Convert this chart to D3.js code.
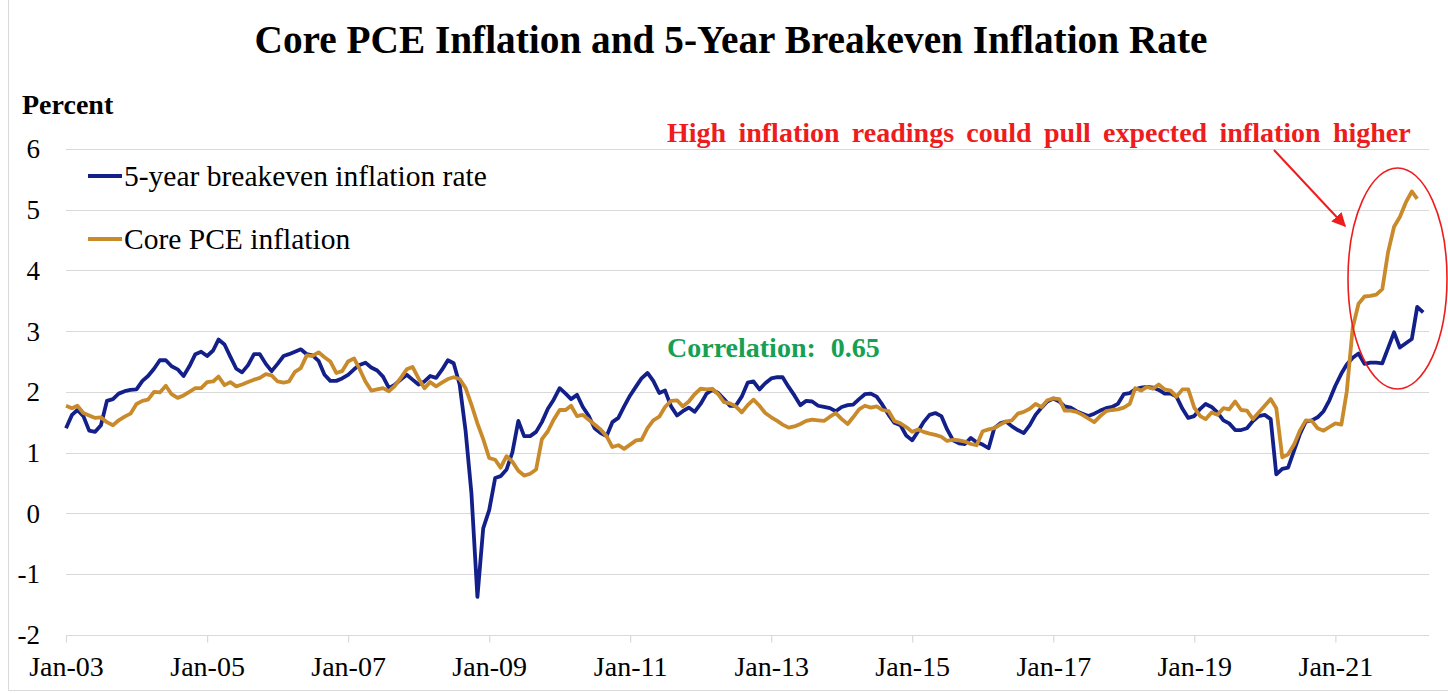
<!DOCTYPE html>
<html>
<head>
<meta charset="utf-8">
<script src="https://cdn.jsdelivr.net/npm/d3@7"></script>
<style>
    body { margin: 0; background: #fff; }
    text { font-family: "Liberation Serif", "Times New Roman", serif; }
</style>
</head>
<body>
<div id="chart"></div>
<script>
// monthly series, Jan 2003 onward
let breakeven = [
    1.40, 1.62, 1.70, 1.60, 1.36, 1.34, 1.45, 1.85, 1.88, 1.97,
    2.01, 2.03, 2.04, 2.18, 2.26, 2.38, 2.52, 2.52, 2.42, 2.37,
    2.26, 2.42, 2.62, 2.66, 2.59, 2.68, 2.86, 2.78, 2.58, 2.38,
    2.32, 2.44, 2.62, 2.62, 2.46, 2.34, 2.46, 2.59, 2.62, 2.66,
    2.70, 2.62, 2.60, 2.51, 2.28, 2.18, 2.18, 2.22, 2.28, 2.37,
    2.44, 2.48, 2.40, 2.35, 2.25, 2.06, 2.12, 2.20, 2.28, 2.20,
    2.12, 2.17, 2.26, 2.23, 2.36, 2.52, 2.47, 2.12, 1.35, 0.33,
    -1.38, -0.25, 0.05, 0.58, 0.61, 0.72, 1.00, 1.52, 1.27, 1.27,
    1.34, 1.50, 1.72, 1.87, 2.06, 1.97, 1.88, 1.95, 1.75, 1.60,
    1.40, 1.32, 1.27, 1.50, 1.57, 1.76, 1.94, 2.09, 2.22, 2.31,
    2.18, 1.98, 2.02, 1.76, 1.61, 1.68, 1.74, 1.67, 1.80, 1.97,
    2.03, 1.98, 1.88, 1.77, 1.77, 1.92, 2.15, 2.17, 2.04, 2.14,
    2.22, 2.24, 2.24, 2.08, 1.94, 1.78, 1.85, 1.84, 1.77, 1.75,
    1.73, 1.68, 1.75, 1.78, 1.79, 1.88, 1.96, 1.97, 1.92, 1.78,
    1.62, 1.49, 1.45, 1.28, 1.20, 1.35, 1.50, 1.62, 1.65, 1.60,
    1.38, 1.20, 1.15, 1.14, 1.24, 1.17, 1.13, 1.07, 1.40, 1.48,
    1.51, 1.43, 1.37, 1.32, 1.45, 1.62, 1.74, 1.84, 1.89, 1.84,
    1.76, 1.74, 1.68, 1.64, 1.60, 1.64, 1.69, 1.73, 1.75, 1.80,
    1.96, 1.98, 2.04, 2.07, 2.08, 2.07, 2.03, 1.97, 1.97, 1.92,
    1.72, 1.57, 1.60, 1.72, 1.80, 1.75, 1.66, 1.53, 1.48, 1.37,
    1.37, 1.40, 1.52, 1.60, 1.62, 1.55, 0.64, 0.73, 0.75, 1.03,
    1.30, 1.51, 1.53, 1.58, 1.68, 1.86, 2.10, 2.30, 2.45, 2.56,
    2.63, 2.46, 2.48, 2.48, 2.47, 2.72, 2.98, 2.73, 2.80, 2.87,
    3.40, 3.31
];

let corePce = [
    1.77, 1.73, 1.77, 1.65, 1.61, 1.57, 1.58, 1.50, 1.45, 1.53,
    1.59, 1.64, 1.80, 1.85, 1.87, 2.00, 1.99, 2.10, 1.96, 1.90,
    1.94, 2.00, 2.06, 2.06, 2.16, 2.17, 2.25, 2.11, 2.16, 2.09,
    2.12, 2.16, 2.20, 2.23, 2.29, 2.27, 2.17, 2.15, 2.17, 2.33,
    2.39, 2.60, 2.59, 2.65, 2.57, 2.50, 2.31, 2.34, 2.50, 2.55,
    2.38, 2.17, 2.02, 2.04, 2.06, 2.01, 2.10, 2.23, 2.37, 2.41,
    2.22, 2.06, 2.16, 2.09, 2.15, 2.21, 2.24, 2.21, 2.06, 1.79,
    1.48, 1.22, 0.91, 0.88, 0.75, 0.94, 0.85, 0.70, 0.62, 0.65,
    0.72, 1.22, 1.35, 1.54, 1.70, 1.70, 1.77, 1.60, 1.62, 1.54,
    1.46, 1.38, 1.27, 1.09, 1.12, 1.06, 1.13, 1.20, 1.21, 1.40,
    1.53, 1.59, 1.75, 1.85, 1.86, 1.76, 1.84, 1.96, 2.05, 2.04,
    2.05, 1.96, 1.83, 1.81, 1.76, 1.66, 1.78, 1.87, 1.77, 1.65,
    1.58, 1.52, 1.46, 1.41, 1.43, 1.47, 1.52, 1.54, 1.53, 1.52,
    1.59, 1.65, 1.55, 1.47, 1.58, 1.71, 1.77, 1.74, 1.76, 1.70,
    1.68, 1.52, 1.48, 1.42, 1.34, 1.38, 1.34, 1.31, 1.29, 1.26,
    1.19, 1.21, 1.20, 1.18, 1.14, 1.12, 1.35, 1.38, 1.40, 1.46,
    1.51, 1.53, 1.64, 1.67, 1.72, 1.80, 1.75, 1.86, 1.89, 1.88,
    1.69, 1.69, 1.67, 1.62, 1.56, 1.50, 1.60, 1.68, 1.70, 1.71,
    1.74, 1.80, 2.06, 2.02, 2.08, 2.05, 2.12, 2.04, 2.02, 1.92,
    2.04, 2.04, 1.74, 1.60, 1.55, 1.66, 1.62, 1.73, 1.71, 1.84,
    1.70, 1.69, 1.55, 1.66, 1.77, 1.88, 1.73, 0.92, 0.97, 1.13,
    1.36, 1.53, 1.52, 1.40, 1.36, 1.42, 1.48, 1.46, 2.00, 3.06,
    3.45, 3.57, 3.58, 3.60, 3.69, 4.30, 4.72, 4.88, 5.12, 5.30,
    5.18
];

let tickYears = [2003, 2005, 2007, 2009, 2011, 2013, 2015, 2017, 2019, 2021];
let yTicks = [6, 5, 4, 3, 2, 1, 0, -1, -2];
let seriesNames = ["5-year breakeven inflation rate", "Core PCE inflation"];
let seriesColors = ["#14208a", "#c98a2b"];

let width = 1448, height = 693;
let months = d3.timeMonth.range(new Date(2003, 0, 1), new Date(2022, 4, 1));

let svg = d3.select("#chart")
    .append("svg")
    .attr("width", width)
    .attr("height", height);

svg.append("rect").attr("width", width).attr("height", height).attr("fill", "#fff");

// chart frame (left & bottom edges visible)
svg.append("path")
    .attr("d", "M8.5,0V690.5H1448")
    .attr("fill", "none")
    .attr("stroke", "#d9d9d9");

let x = d3.scaleTime()
    .domain([new Date(2003, 0, 1), new Date(2022, 4, 1)])
    .range([66, 1429]);

let y = d3.scaleLinear()
    .domain([-2, 6])
    .range([634.6, 149]);

////////// grid + axes //////////
svg.append("g")
    .selectAll("line")
    .data(yTicks)
    .enter()
    .append("line")
    .attr("x1", x.range()[0])
    .attr("x2", x.range()[1])
    .attr("y1", d => Math.round(y(d)) + 0.5)
    .attr("y2", d => Math.round(y(d)) + 0.5)
    .attr("stroke", "#d9d9d9")
    .attr("stroke-width", 1.2);

svg.append("g")
    .selectAll("text")
    .data(yTicks)
    .enter()
    .append("text")
    .attr("x", 40)
    .attr("y", d => y(d))
    .attr("dy", "0.35em")
    .attr("text-anchor", "end")
    .attr("font-size", 27)
    .attr("fill", "#000")
    .text(d => d);

let xAxis = d3.axisBottom(x)
    .tickValues(tickYears.map(yr => new Date(yr, 0, 1)))
    .tickSize(7)
    .tickPadding(14)
    .tickFormat(d => "Jan-" + d3.timeFormat("%y")(d));

let gx = svg.append("g")
    .attr("transform", "translate(0," + (Math.round(y(-2)) + 0.5) + ")")
    .call(xAxis);
gx.select(".domain").remove();
gx.selectAll(".tick line").attr("stroke", "#d9d9d9").attr("stroke-width", 1.2);
gx.selectAll(".tick text")
    .attr("font-family", "Liberation Serif, serif")
    .attr("font-size", 28)
    .attr("fill", "#000");

////////// lines //////////
let line = d3.line()
    .x((d, i) => x(months[i]))
    .y(d => y(d));

[breakeven, corePce].forEach(function (values, i) {
    svg.append("path")
        .datum(values)
        .attr("fill", "none")
        .attr("stroke", seriesColors[i])
        .attr("stroke-width", 3.8)
        .attr("stroke-linejoin", "round")
        .attr("d", line);
});

////////// text //////////
svg.append("text")
    .attr("x", 731)
    .attr("y", 53)
    .attr("text-anchor", "middle")
    .attr("font-size", 39.3)
    .attr("font-weight", "bold")
    .text("Core PCE Inflation and 5-Year Breakeven Inflation Rate");

svg.append("text")
    .attr("x", 22)
    .attr("y", 114)
    .attr("font-size", 28)
    .attr("font-weight", "bold")
    .text("Percent");

let legend = svg.append("g")
    .selectAll("g")
    .data(seriesNames)
    .enter()
    .append("g")
    .attr("transform", (d, i) => "translate(0," + (176 + i * 63) + ")");
legend.append("line")
    .attr("x1", 88)
    .attr("x2", 122)
    .attr("stroke", (d, i) => seriesColors[i])
    .attr("stroke-width", 3.8);
legend.append("text")
    .attr("x", 124)
    .attr("dy", "0.33em")
    .attr("font-size", 29.5)
    .text(d => d);

svg.append("text")
    .attr("x", 667)
    .attr("y", 357)
    .attr("font-size", 28)
    .attr("font-weight", "bold")
    .attr("word-spacing", 8)
    .attr("fill", "#16a052")
    .text("Correlation: 0.65");

svg.append("text")
    .attr("x", 667)
    .attr("y", 142)
    .attr("font-size", 28)
    .attr("font-weight", "bold")
    .attr("word-spacing", 5.3)
    .attr("fill", "#ee1c1c")
    .text("High inflation readings could pull expected inflation higher");

// arrow + ellipse callout
svg.append("defs").append("marker")
    .attr("id", "arrowhead")
    .attr("viewBox", "0 0 10 10")
    .attr("refX", 9)
    .attr("refY", 5)
    .attr("markerWidth", 7)
    .attr("markerHeight", 7)
    .attr("markerUnits", "strokeWidth")
    .attr("orient", "auto")
    .append("path")
    .attr("d", "M0,0L10,5L0,10z")
    .attr("fill", "#ee1c1c");

svg.append("line")
    .attr("x1", 1274)
    .attr("y1", 150)
    .attr("x2", 1345)
    .attr("y2", 226)
    .attr("stroke", "#ee1c1c")
    .attr("stroke-width", 2)
    .attr("marker-end", "url(#arrowhead)");

svg.append("ellipse")
    .attr("cx", 1397.5)
    .attr("cy", 278.5)
    .attr("rx", 49.5)
    .attr("ry", 110.5)
    .attr("fill", "none")
    .attr("stroke", "#ee1c1c")
    .attr("stroke-width", 1.6);
</script>
</body>
</html>
